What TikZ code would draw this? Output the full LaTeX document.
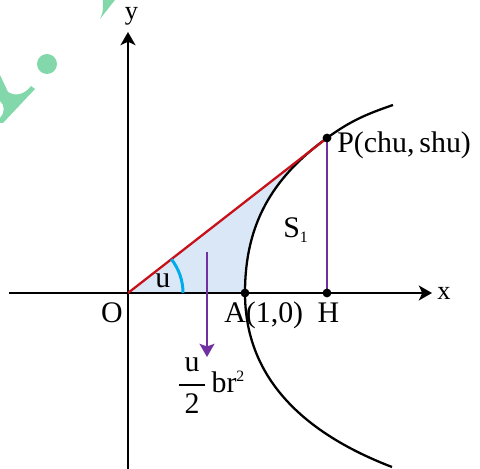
\documentclass[tikz,border=0pt]{standalone}
\usepackage{amsmath}
\usepackage{fontspec}
\setmainfont{Liberation Serif}
\usepackage{xcolor}
\usetikzlibrary{arrows.meta}

\definecolor{chordred}{RGB}{200,16,24}
\definecolor{arcblue}{RGB}{0,172,236}
\definecolor{lilac}{RGB}{112,48,160}
\definecolor{areablue}{RGB}{218,231,246}
\definecolor{wmgreen}{RGB}{130,216,170}

\begin{document}
\begin{tikzpicture}[>=Stealth,every node/.style={font=\fontsize{17}{20}\selectfont,inner sep=0pt},
  axis/.style={line width=1.7pt,-{Stealth[length=7.5pt,width=8.5pt,inset=2pt]}},
  curve/.style={line width=1.3pt},
  dot/.style={circle,fill=black,minimum size=5pt,inner sep=0pt}]
\useasboundingbox (-2.56,-3.52) rectangle (7.04,5.86);
% watermark pieces
\fill[wmgreen] (-1.62,4.58) circle (0.2);
\fill[wmgreen] (-2.56,4.36)--(-2.40,4.02) .. controls (-2.24,3.92) and (-2.06,3.98) .. (-1.94,4.14)--(-1.86,4.08)--(-2.50,3.40)--(-2.56,3.40)--(-2.56,3.50) .. controls (-2.46,3.60) and (-2.46,3.76) .. (-2.56,3.84)--cycle;
\fill[wmgreen] (-0.56,5.48) .. controls (-0.50,5.62) .. (-0.50,5.86)--(-0.26,5.86)--cycle;
% points
\coordinate (O) at (0,0);
\coordinate (A) at (2.34,0);
\coordinate (H) at (3.98,0);
\coordinate (P) at (3.98,3.10);
\coordinate (lowEnd) at (5.28,-3.48);
\coordinate (upEnd) at (5.30,3.76);
\coordinate (xL) at (-2.38,0);
\coordinate (xR) at (6.08,0);
\coordinate (yB) at (0,-3.52);
\coordinate (yT) at (0,5.22);
\coordinate (arrTop) at (1.58,0.82);
\coordinate (arrTip) at (1.58,-1.28);
% sector
\fill[areablue] (O)--(P) to[out=-144,in=90] (A)--cycle;
% axes
\draw[axis] (xL)--(xR);
\draw[axis] (yB)--(yT);
% hyperbola
\draw[curve] (lowEnd) to[out=159,in=-90] (A) to[out=90,in=-144] (P) to[out=36,in=-161] (upEnd);
\draw[chordred,line width=1.3pt] (O)--(P);
\draw[arcblue,line width=1.7pt] (1.1,0) arc (0:37.9:1.1);
\draw[lilac,line width=1.1pt] (P)--(H);
\draw[lilac,line width=1.1pt,-{Stealth[length=7.5pt,width=8.5pt,inset=1.5pt]}] (arrTop)--(arrTip);
\node[dot] (dA) at (A) {};
\node[dot] (dH) at (H) {};
\node[dot] (dP) at (P) {};
% labels
\node[anchor=base,font=\fontsize{15}{18}\selectfont] (lblY) at (0.07,5.46) {y};
\node[anchor=base,font=\fontsize{15}{18}\selectfont] (lblX) at (6.32,-0.14) {x};
\node[anchor=base east] (lblO) at (-0.10,-0.59) {O};
\node[anchor=base west] (lblA) at (1.92,-0.59) {A(1,0)};
\node[anchor=base] (lblH) at (4.01,-0.59) {H};
\node[anchor=base west] (lblP) at (4.18,2.80) {P(chu,\,shu)};
\node[anchor=base west] (lblS) at (3.10,1.10) {S{\fontsize{9}{9}\selectfont\raisebox{-2.8pt}{1}}};
\node[anchor=base west] (lblU) at (0.54,0.10) {u};
\node[anchor=base west] (lblArea) at (0.98,-1.99) {$\dfrac{\,\text{u}\,}{\,\text{2}\,}$\,br{\fontsize{9}{9}\selectfont\raisebox{6pt}{2}}};
\end{tikzpicture}
\end{document}
